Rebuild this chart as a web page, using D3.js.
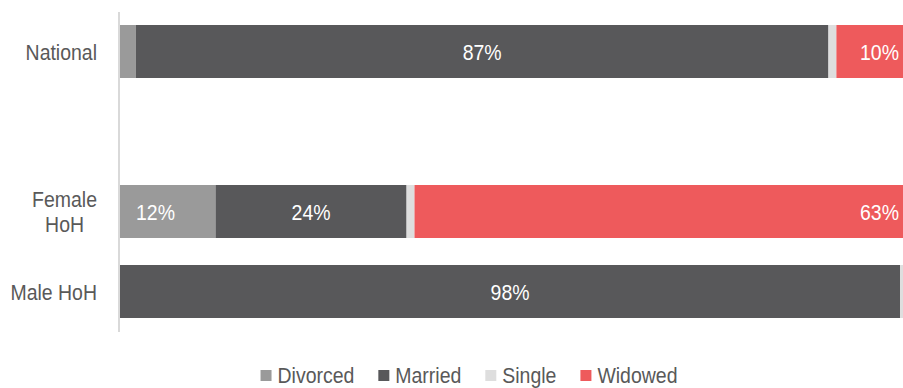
<!DOCTYPE html>
<html>
<head>
<meta charset="utf-8">
<script src="https://cdn.jsdelivr.net/npm/d3@7"></script>
<style>
  html, body { margin: 0; padding: 0; background: #fff; overflow: hidden; }
  svg { display: block; }
</style>
</head>
<body>
<svg id="chart" width="903" height="388"></svg>
<script>
// Marital status of household heads, share of households (%)
const categories = ["National", "", "Female HoH", "Male HoH"];
const seriesNames = ["Divorced", "Married", "Single", "Widowed"];
const divorced = [2, null, 12, 0];
const married  = [87, null, 24, 98];
const single   = [1, null, 1, 1];
const widowed  = [10, null, 63, 1];
const colors   = ["#9a9a9a", "#58585a", "#dedede", "#ee5a5c"];

const W = 903, H = 388;
const FONT = "'Liberation Sans', Arial, Helvetica, sans-serif";
const FS = 22;        // font size in px
const SX = 0.885;     // horizontal condensing of all text
const TEXT_GREY = "#595959";

const svg = d3.select("#chart");

const x = d3.scaleLinear().domain([0, 100]).range([120, 916]);
const y = d3.scaleBand()
  .domain(categories)
  .range([11.5, 331.5])
  .paddingInner(0.3375)
  .paddingOuter(0.16875);
const color = d3.scaleOrdinal().domain(seriesNames).range(colors);

// rows for the stack; the blank category stays empty
const rows = categories.map((c, i) => ({
  cat: c,
  empty: divorced[i] == null,
  Divorced: divorced[i] || 0,
  Married: married[i] || 0,
  Single: single[i] || 0,
  Widowed: widowed[i] || 0
}));
const stacked = d3.stack().keys(seriesNames)(rows);

// text helper: condensed text anchored at (px, py)
function addText(g, str, px, py, anchor, fill) {
  return g.append("text")
    .attr("transform", `translate(${px},${py}) scale(${SX},1)`)
    .attr("text-anchor", anchor)
    .attr("font-family", FONT)
    .attr("font-size", FS)
    .attr("fill", fill)
    .text(str);
}

// bars
const barG = svg.append("g");
stacked.forEach(layer => {
  barG.append("g")
    .attr("fill", color(layer.key))
    .selectAll("rect")
    .data(layer.filter(d => !d.data.empty))
    .join("rect")
    .attr("x", d => x(d[0]))
    .attr("y", d => y(d.data.cat))
    .attr("width", d => x(d[1]) - x(d[0]))
    .attr("height", y.bandwidth());
});

// value labels
const labelG = svg.append("g");
stacked.forEach(layer => {
  layer.filter(d => !d.data.empty && (d[1] - d[0]) >= 5).forEach(d => {
    const v = d[1] - d[0];
    const x0 = x(d[0]), x1 = x(d[1]);
    const cy = y(d.data.cat) + y.bandwidth() / 2 + 8;
    let px, anchor;
    if (x1 > W) { px = W - 4; anchor = "end"; }
    else if (layer.key === "Divorced") { px = x0 + 16; anchor = "start"; }
    else { px = (x0 + x1) / 2; anchor = "middle"; }
    addText(labelG, `${v}%`, px, cy, anchor, "#ffffff");
  });
});

// vertical category axis line
const axisG = svg.append("g")
  .attr("transform", "translate(118.5,0)")
  .call(d3.axisLeft(y).tickSize(0).tickSizeOuter(0).tickFormat(""));
axisG.select(".domain").attr("stroke", "#d9d9d9").attr("stroke-width", 2);
axisG.selectAll(".tick").remove();

// category labels, wrapped when too wide, block right-aligned
const catG = svg.append("g");
const labelRight = 97;
const maxLabelW = 95;
categories.forEach(c => {
  if (!c) return;
  const probe = addText(catG, c, 0, 0, "start", TEXT_GREY);
  const full = probe.node().getComputedTextLength() * SX;
  probe.remove();
  const lines = full > maxLabelW ? c.split(" ") : [c];
  const widths = lines.map(l => {
    const t = addText(catG, l, 0, 0, "start", TEXT_GREY);
    const w = t.node().getComputedTextLength() * SX;
    t.remove();
    return w;
  });
  const blockW = d3.max(widths);
  const cx = labelRight - blockW / 2;
  const lh = 25;
  const cy = y(c) + y.bandwidth() / 2;
  lines.forEach((l, i) => {
    const by = cy + 8 + (i - (lines.length - 1) / 2) * lh;
    addText(catG, l, cx, by, "middle", TEXT_GREY);
  });
});

// legend
const legG = svg.append("g");
const sw = 11, gapSw = 6, gapItem = 24;
const legBase = 383;
const items = seriesNames.map(name => {
  const t = addText(legG, name, 0, 0, "start", TEXT_GREY);
  const w = t.node().getComputedTextLength() * SX;
  t.remove();
  return { name, w };
});
const totalW = d3.sum(items, d => sw + gapSw + d.w) + gapItem * (items.length - 1);
let lx = 469 - totalW / 2;
items.forEach(it => {
  legG.append("rect")
    .attr("x", lx).attr("y", legBase - 13)
    .attr("width", sw).attr("height", sw)
    .attr("fill", color(it.name));
  addText(legG, it.name, lx + sw + gapSw, legBase, "start", TEXT_GREY);
  lx += sw + gapSw + it.w + gapItem;
});
</script>
</body>
</html>
